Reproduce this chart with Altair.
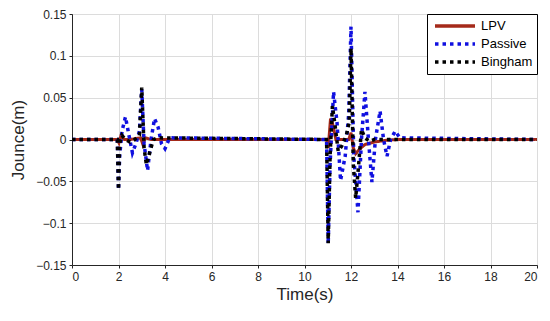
import altair as alt
import pandas as pd

series_names = ["LPV", "Passive", "Bingham"]
series_colors = ["#A52A1A", "#1010E0", "#000000"]

lpv_t = [0, 1.95, 2.02, 2.1, 2.25, 2.5, 2.95, 3.05, 3.15, 3.4, 10.95, 11.02, 11.12, 11.2, 11.35, 11.5, 11.9, 12.0, 12.1, 12.2, 12.35, 12.6, 13.0, 13.5, 14.0, 20]
lpv_v = [0, 0, -0.004, 0.004, 0.0, 0.0, 0.002, -0.006, 0.002, 0, 0, -0.01, 0.025, 0.02, 0.0, 0.0, 0.0, 0.008, -0.01, -0.017, -0.012, -0.006, -0.003, -0.001, 0, 0]

pas_t = [0, 1.95, 2.0, 2.05, 2.15, 2.3, 2.45, 2.6, 2.75, 2.9, 3.0, 3.1, 3.25, 3.4, 3.55, 3.7, 3.85, 4.0, 4.2, 10.95, 11.02, 11.1, 11.25, 11.4, 11.55, 11.75, 11.9, 12.0, 12.12, 12.3, 12.45, 12.6, 12.75, 12.9, 13.05, 13.25, 13.4, 13.55, 13.7, 13.9, 14.1, 20]
pas_v = [0, 0, -0.06, -0.02, 0.01, 0.027, 0.005, -0.016, -0.005, 0.01, 0.06, -0.005, -0.037, 0.0, 0.025, 0.015, -0.005, -0.011, 0.002, 0, -0.125, -0.03, 0.057, 0.02, -0.049, -0.02, 0.03, 0.135, -0.02, -0.087, 0.0, 0.057, 0.0, -0.051, 0.0, 0.034, 0.0, -0.02, 0.0, 0.01, 0.002, 0]

bing_t = [0, 1.95, 2.0, 2.05, 2.15, 2.3, 2.5, 2.7, 2.9, 3.0, 3.1, 3.2, 3.35, 3.5, 3.7, 10.95, 11.02, 11.1, 11.2, 11.3, 11.45, 11.6, 11.8, 11.92, 12.0, 12.1, 12.2, 12.3, 12.45, 12.6, 12.8, 13.0, 20]
bing_v = [0, 0, -0.06, -0.005, 0.005, 0.0, -0.003, 0.0, 0.005, 0.062, -0.01, -0.03, -0.015, 0.0, 0.002, 0, -0.124, -0.02, 0.04, 0.02, -0.014, -0.008, 0.005, 0.02, 0.109, -0.03, -0.07, -0.04, 0.012, 0.002, -0.002, 0, 0]

x_ticks = list(range(0, 21, 2))
y_ticks = [-0.15, -0.1, -0.05, 0, 0.05, 0.1, 0.15]

def frame(name, ts, vs):
    return pd.DataFrame({"t": ts, "v": vs, "series": name, "ord": range(len(ts))})

df_l = frame("LPV", lpv_t, lpv_v)
df_p = frame("Passive", pas_t, pas_v)
df_b = frame("Bingham", bing_t, bing_v)

FONT = "Liberation Sans"

color = alt.Color("series:N", scale=alt.Scale(domain=series_names, range=series_colors),
                  legend=alt.Legend(title=None, orient="top-right", offset=0,
                                    symbolType="stroke", symbolSize=1600, symbolStrokeWidth=3.5,
                                    clipHeight=16,
                                    labelFont=FONT, labelFontSize=13, labelColor="#000000",
                                    strokeColor="#000000", fillColor="#ffffff",
                                    padding=4, rowPadding=2, labelOffset=4, symbolOffset=2))
dash = alt.StrokeDash("series:N", scale=alt.Scale(domain=series_names, range=[[1, 0], [3.5, 4], [3.5, 4]]), legend=alt.Legend(title=None))
xenc = alt.X("t:Q", scale=alt.Scale(domain=[0, 20], nice=False),
             axis=alt.Axis(values=x_ticks, title="Time(s)", format="d"))
yenc = alt.Y("v:Q", scale=alt.Scale(domain=[-0.15, 0.15], nice=False),
             axis=alt.Axis(values=y_ticks, title="Jounce(m)", format=".2~f"))

def layer(df, w):
    return alt.Chart(df).mark_line(strokeWidth=w, clip=True).encode(
        x=xenc, y=yenc, color=color, strokeDash=dash, order="ord:Q")

chart = alt.layer(layer(df_l, 3), layer(df_p, 3.5), layer(df_b, 3.5)).properties(
    width=465, height=251,
    background="white",
    autosize=alt.AutoSizeParams(type="none"),
    padding={"left": 64, "top": 6, "right": 5, "bottom": 45},
).configure_view(stroke="#262626", strokeWidth=1).configure_axis(
    labelFont=FONT, titleFont=FONT, labelFontSize=12, titleFontSize=17,
    labelColor="#262626", titleColor="#262626", titleFontWeight="normal",
    gridColor="#dcdcdc", domainColor="#262626", tickColor="#262626", tickSize=3,
    labelPadding=3,
).configure_axisX(titlePadding=4).configure_axisY(titlePadding=8)

chart.save("out.html", embed_options={"renderer": "svg", "actions": False})
